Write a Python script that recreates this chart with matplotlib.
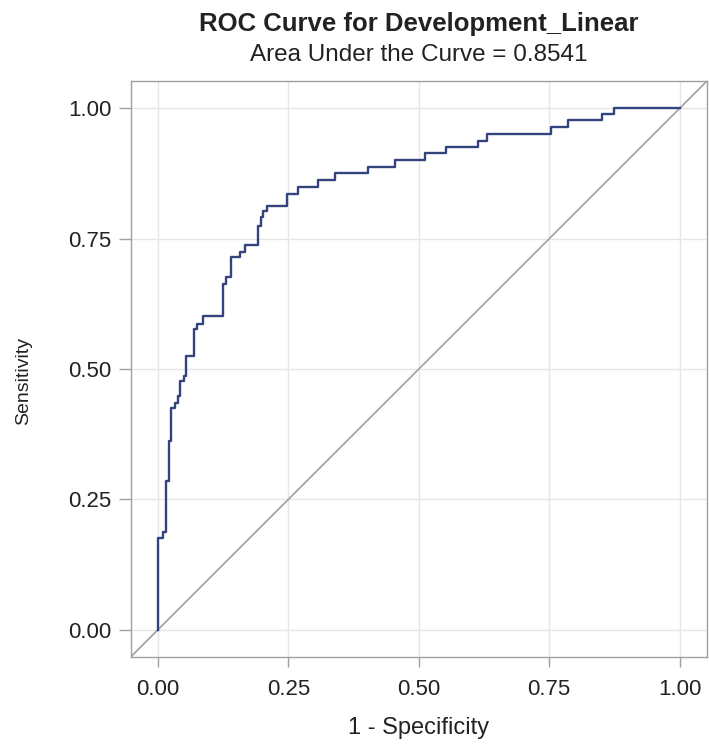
import matplotlib
matplotlib.use("Agg")
import matplotlib.pyplot as plt

plt.rcParams['font.family'] = ['Liberation Sans', 'DejaVu Sans']

# ROC step curve vertices (1 - specificity, sensitivity)
fpr = [0.000, 0.000, 0.010, 0.010, 0.015, 0.015, 0.021, 0.021, 0.024, 0.024,
       0.033, 0.033, 0.038, 0.038, 0.042, 0.042, 0.049, 0.049, 0.054, 0.054,
       0.069, 0.069, 0.074, 0.074, 0.086, 0.086, 0.125, 0.125, 0.130, 0.130,
       0.139, 0.139, 0.158, 0.158, 0.167, 0.167, 0.192, 0.192, 0.197, 0.197,
       0.202, 0.202, 0.208, 0.208, 0.247, 0.247, 0.269, 0.269, 0.307, 0.307,
       0.339, 0.339, 0.403, 0.403, 0.454, 0.454, 0.511, 0.511, 0.553, 0.553,
       0.614, 0.614, 0.630, 0.630, 0.754, 0.754, 0.786, 0.786, 0.852, 0.852,
       0.874, 0.874, 1.000]
tpr = [0.000, 0.176, 0.176, 0.188, 0.188, 0.285, 0.285, 0.362, 0.362, 0.426,
       0.426, 0.435, 0.435, 0.448, 0.448, 0.477, 0.477, 0.487, 0.487, 0.525,
       0.525, 0.576, 0.576, 0.587, 0.587, 0.602, 0.602, 0.663, 0.663, 0.676,
       0.676, 0.714, 0.714, 0.724, 0.724, 0.738, 0.738, 0.775, 0.775, 0.791,
       0.791, 0.804, 0.804, 0.813, 0.813, 0.836, 0.836, 0.850, 0.850, 0.863,
       0.863, 0.876, 0.876, 0.887, 0.887, 0.900, 0.900, 0.914, 0.914, 0.926,
       0.926, 0.938, 0.938, 0.951, 0.951, 0.964, 0.964, 0.977, 0.977, 0.990,
       0.990, 1.000, 1.000]

ticks = [0.00, 0.25, 0.50, 0.75, 1.00]
tick_labels = ["0.00", "0.25", "0.50", "0.75", "1.00"]
title = "ROC Curve for Development_Linear"
subtitle = "Area Under the Curve = 0.8541"
xlabel = "1 - Specificity"
ylabel = "Sensitivity"

W, H = 709, 744
fig = plt.figure(figsize=(W / 100, H / 100), dpi=100)
ax_l, ax_r, ax_t, ax_b = 130.7, 707, 81, 657
ax = fig.add_axes([ax_l / W, 1 - ax_b / H, (ax_r - ax_l) / W, (ax_b - ax_t) / H])

lo, hi = -0.0525, 1.0525
ax.set_xlim(lo, hi)
ax.set_ylim(lo, hi)
ax.plot([lo, hi], [lo, hi], color="#a6a6a6", lw=1.3, zorder=2)
ax.plot(fpr, tpr, color="#33437e", lw=1.7, zorder=3)

ax.set_xticks(ticks)
ax.set_xticklabels(tick_labels)
ax.set_yticks(ticks)
ax.set_yticklabels(tick_labels)
ax.grid(True, color="#e6e6e6", lw=1.0, zorder=0)
ax.set_axisbelow(True)
for s in ax.spines.values():
    s.set_color("#a0a0a0")
    s.set_linewidth(1.0)
ax.tick_params(colors="#a0a0a0", labelcolor="#222222", labelsize=16, width=1.0)
ax.tick_params(axis="x", length=7.5, pad=8)
ax.tick_params(axis="y", length=9, pad=5)

cx = (ax_l + ax_r) / 2 / W
fig.text(cx, 1 - 31 / H, title, ha="center", va="baseline", fontsize=18.5,
         fontweight="bold", color="#222222")
fig.text(cx, 1 - 61 / H, subtitle, ha="center", va="baseline", fontsize=17.5,
         color="#222222")
fig.text(cx, 1 - 734 / H, xlabel, ha="center", va="baseline", fontsize=17,
         color="#222222")
fig.text(24 / W, 1 - 381 / H, ylabel, ha="center", va="center", fontsize=14,
         rotation=90, color="#222222")

fig.savefig("out.png", dpi=100, facecolor="white")
